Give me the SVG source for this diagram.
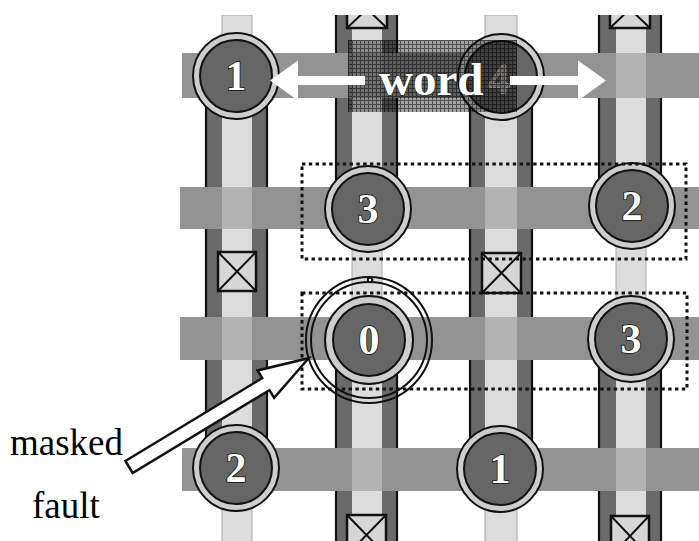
<svg xmlns="http://www.w3.org/2000/svg" width="699" height="541" viewBox="0 0 699 541">
  <style>
    .dark { fill: #6a6a6a; }
    .light { fill: #dcdcdc; }
    .lightonly { fill: #dcdcdc; stroke: #a8a8a8; stroke-width: 1; }
    .edge { stroke: #111; stroke-width: 2.2; }
    .bar { fill: #939393; }
    .glow { fill: #dcdcdc; opacity: 0.45; }
    .box { fill: #d6d6d6; stroke: #111; stroke-width: 2.5; }
    .x { stroke: #111; stroke-width: 2; }
    .ring { fill: #cdcdcd; stroke: #111; stroke-width: 2; }
    .core { fill: #666; stroke: #111; stroke-width: 2; }
    .num { font-family: "Liberation Serif", "Times New Roman", serif; font-weight: bold; font-size: 42px; fill: #fff; stroke: #111; stroke-width: 1.6; paint-order: stroke; text-anchor: middle; }
    .dots { fill: none; stroke: #111; stroke-width: 3; stroke-dasharray: 3.4 3.4; }
    .label { font-family: "Liberation Serif", "Times New Roman", serif; font-size: 37px; fill: #000; }
  </style>
  <defs>
    <pattern id="hatch" width="4" height="4" patternUnits="userSpaceOnUse">
      <rect width="4" height="4" fill="#000" opacity="0.36"/>
      <path d="M0 0.5H4M0.5 0V4" stroke="#000" stroke-width="1" opacity="0.5"/>
    </pattern>
    <clipPath id="field">
      <rect x="0" y="15" width="699" height="526"/>
    </clipPath>
  </defs>
  <rect width="699" height="541" fill="#fff"/>

  <!-- vertical lines: dark banded segments and light-only segments -->
  <g id="columns" clip-path="url(#field)">
    <!-- column 1 -->
    <rect class="lightonly" x="222" y="15" width="30" height="60"/>
    <rect class="dark" x="205" y="75" width="63" height="395"/>
    <rect class="light" x="222" y="75" width="30" height="395"/>
    <line class="edge" x1="206" y1="75" x2="206" y2="470"/>
    <line class="edge" x1="267" y1="75" x2="267" y2="470"/>
    <rect class="lightonly" x="222" y="470" width="30" height="80"/>
    <!-- column 2 -->
    <rect class="dark" x="335" y="0" width="63" height="210"/>
    <rect class="light" x="352" y="0" width="30" height="210"/>
    <line class="edge" x1="336" y1="0" x2="336" y2="210"/>
    <line class="edge" x1="397" y1="0" x2="397" y2="210"/>
    <rect class="lightonly" x="352" y="210" width="30" height="130"/>
    <rect class="dark" x="335" y="340" width="63" height="210"/>
    <rect class="light" x="352" y="340" width="30" height="210"/>
    <line class="edge" x1="336" y1="340" x2="336" y2="550"/>
    <line class="edge" x1="397" y1="340" x2="397" y2="550"/>
    <!-- column 3 -->
    <rect class="lightonly" x="485" y="15" width="32" height="62"/>
    <rect class="dark" x="469" y="77" width="64" height="392"/>
    <rect class="light" x="485" y="77" width="32" height="392"/>
    <line class="edge" x1="470" y1="77" x2="470" y2="469"/>
    <line class="edge" x1="532" y1="77" x2="532" y2="469"/>
    <rect class="lightonly" x="485" y="469" width="32" height="80"/>
    <!-- column 4 -->
    <rect class="dark" x="598" y="0" width="64" height="207"/>
    <rect class="light" x="616" y="0" width="30" height="207"/>
    <line class="edge" x1="599" y1="0" x2="599" y2="207"/>
    <line class="edge" x1="661" y1="0" x2="661" y2="207"/>
    <rect class="lightonly" x="616" y="207" width="30" height="132"/>
    <rect class="dark" x="598" y="339" width="64" height="210"/>
    <rect class="light" x="616" y="339" width="30" height="210"/>
    <line class="edge" x1="599" y1="339" x2="599" y2="549"/>
    <line class="edge" x1="661" y1="339" x2="661" y2="549"/>
  </g>

  <!-- crossed cells -->
  <g id="cells" clip-path="url(#field)">
    <g id="cell-c2-top"><rect class="box" x="347" y="-10" width="40" height="38"/><path class="x" d="M347 -10L387 28M387 -10L347 28"/></g>
    <g id="cell-c4-top"><rect class="box" x="610" y="-10" width="40" height="38"/><path class="x" d="M610 -10L650 28M650 -10L610 28"/></g>
    <g id="cell-c1-mid"><rect class="box" x="218" y="252" width="38" height="39"/><path class="x" d="M218 252L256 291M256 252L218 291"/></g>
    <g id="cell-c3-mid"><rect class="box" x="482" y="253" width="39" height="40"/><path class="x" d="M482 253L521 293M521 253L482 293"/></g>
    <g id="cell-c2-bot"><rect class="box" x="347" y="515" width="39" height="40"/><path class="x" d="M347 515L386 555M386 515L347 555"/></g>
    <g id="cell-c4-bot"><rect class="box" x="611" y="516" width="38" height="40"/><path class="x" d="M611 516L649 556M649 516L611 556"/></g>
  </g>

  <!-- horizontal lines -->
  <g id="rows">
    <rect class="bar" x="182" y="53" width="517" height="45"/>
    <rect class="bar" x="180" y="187" width="519" height="42"/>
    <rect class="bar" x="180" y="317" width="519" height="43"/>
    <rect class="bar" x="182" y="448" width="517" height="43"/>
    <!-- light strips showing through at crossings -->
    <rect class="glow" x="352" y="53" width="30" height="45"/>
    <rect class="glow" x="616" y="53" width="30" height="45"/>
    <rect class="glow" x="222" y="187" width="30" height="42"/>
    <rect class="glow" x="485" y="187" width="32" height="42"/>
    <rect class="glow" x="222" y="317" width="30" height="43"/>
    <rect class="glow" x="485" y="317" width="32" height="43"/>
    <rect class="glow" x="352" y="448" width="30" height="43"/>
    <rect class="glow" x="616" y="448" width="30" height="43"/>
  </g>

  <!-- cells holding values -->
  <g id="node-r1c1"><circle class="ring" cx="236" cy="76" r="43"/><circle class="core" cx="236" cy="76" r="36"/><text class="num" x="236" y="90">1</text></g>
  <g id="node-r1c3"><circle class="ring" cx="501" cy="77" r="43"/><circle class="core" cx="501" cy="77" r="36"/><text class="num" x="499" y="93" style="fill:#a8a8a8;stroke:#eee;font-weight:normal">4</text></g>
  <g id="node-r2c2"><circle class="ring" cx="368" cy="209" r="43"/><circle class="core" cx="368" cy="209" r="36"/><text class="num" x="368" y="223">3</text></g>
  <g id="node-r2c4"><circle class="ring" cx="632" cy="206" r="43"/><circle class="core" cx="632" cy="206" r="36"/><text class="num" x="632" y="220">2</text></g>
  <g id="node-r3c2"><circle class="ring" cx="369" cy="340" r="44"/><circle class="core" cx="369" cy="340" r="36"/><text class="num" x="369" y="354">0</text></g>
  <g id="node-r3c4"><circle class="ring" cx="631" cy="339" r="43"/><circle class="core" cx="631" cy="339" r="36"/><text class="num" x="631" y="353">3</text></g>
  <g id="node-r4c1"><circle class="ring" cx="236" cy="468" r="43"/><circle class="core" cx="236" cy="468" r="36"/><text class="num" x="236" y="482">2</text></g>
  <g id="node-r4c3"><circle class="ring" cx="500" cy="469" r="43"/><circle class="core" cx="500" cy="469" r="36"/><text class="num" x="500" y="483">1</text></g>

  <!-- dotted groupings -->
  <g id="groups">
    <rect class="dots" x="302" y="164" width="384" height="95"/>
    <rect class="dots" x="302" y="293" width="385" height="96"/>
  </g>

  <!-- fault marker around the 0 cell -->
  <g id="fault-ring" fill="none" stroke="#111" stroke-width="2">
    <circle cx="369" cy="340" r="63"/>
    <circle cx="369" cy="340" r="58"/>
    <circle cx="370" cy="280" r="2.2" fill="#fff"/>
  </g>

  <!-- word highlight -->
  <g id="word">
    <rect x="348" y="40" width="169" height="72" fill="url(#hatch)"/>
    <text x="379" y="95" font-family="Liberation Serif, Times New Roman, serif" font-weight="bold" font-size="47" fill="#fff" stroke="#222" stroke-width="0.8" paint-order="stroke">word</text>
  </g>

  <!-- connectors -->
  <g id="connectors" fill="#fff">
    <path d="M270 80.5L298 60.5V76H365V85H298V100.5Z"/>
    <path d="M606 80.5L578 60.5V76H510V85H578V100.5Z"/>
    <path d="M0 -7H160V-16L210 0L160 16V7H0Z" transform="translate(129 467) rotate(-31.2)" stroke="#111" stroke-width="2.5" stroke-linejoin="miter"/>
  </g>

  <g id="labels">
    <text class="label" x="10" y="455">masked</text>
    <text class="label" x="32" y="518">fault</text>
  </g>
</svg>
